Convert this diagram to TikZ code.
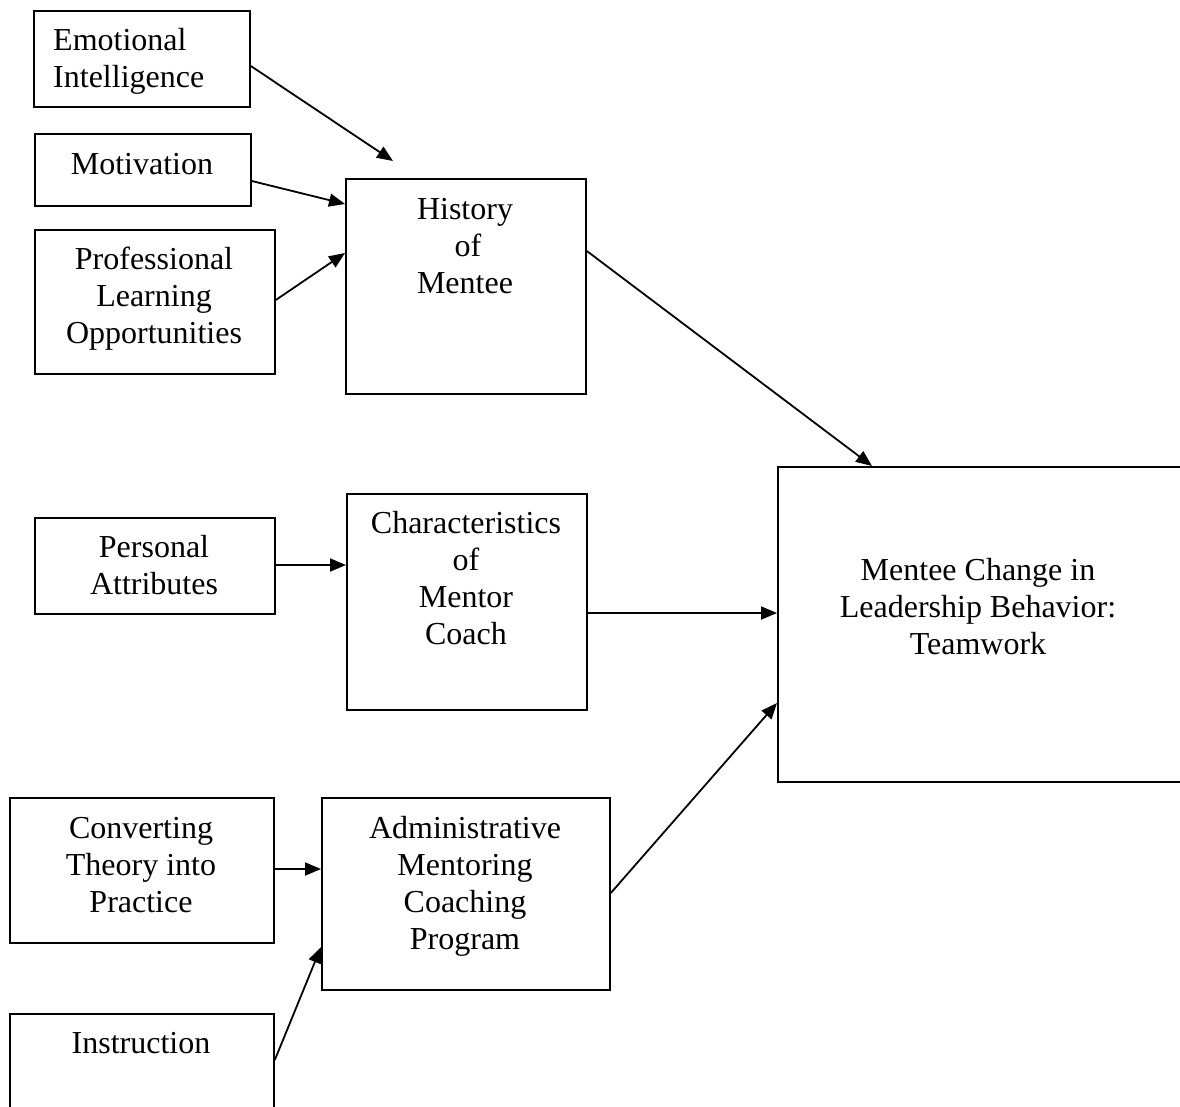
\documentclass[tikz,border=0pt]{standalone}
\usepackage{fontspec}
\setmainfont{Liberation Serif}
\usetikzlibrary{arrows.meta}
\begin{document}
\begin{tikzpicture}[x=1pt,y=-1pt,
  boxnode/.style={draw, line width=1.8pt, rectangle, inner sep=0pt, anchor=north west},
  lbl/.style={font=\fontsize{32}{37}\selectfont, align=center, inner sep=0pt, anchor=north},
  link/.style={line width=1.8pt, -{Triangle[length=16pt,width=13pt]}}]
\clip (0,0) rectangle (1180,1106);
\fill[white] (0,0) rectangle (1180,1106);

% boxes
\node[boxnode, minimum width=216, minimum height=96]  (emo)   at (33,10)   {};
\node[boxnode, minimum width=216, minimum height=72]  (mot)   at (34,133)  {};
\node[boxnode, minimum width=240, minimum height=144] (prof)  at (34,229)  {};
\node[boxnode, minimum width=240, minimum height=215] (hist)  at (345,178) {};
\node[boxnode, minimum width=240, minimum height=96]  (pers)  at (34,517)  {};
\node[boxnode, minimum width=240, minimum height=216] (char)  at (346,493) {};
\node[boxnode, minimum width=420, minimum height=315] (ment)  at (777,466) {};
\node[boxnode, minimum width=264, minimum height=145] (conv)  at (9,797)   {};
\node[boxnode, minimum width=288, minimum height=192] (admin) at (321,797) {};
\node[boxnode, minimum width=264, minimum height=130] (instr) at (9,1013)  {};

% texts
\node[lbl, align=left, anchor=north west] (emoT) at (53,24) {\strut Emotional\\Intelligence};
\node[lbl] (motT)   at (142,148)  {\strut Motivation};
\node[lbl] (profT)  at (154,243)  {\strut Professional\\Learning\\Opportunities};
\node[lbl] (histT)  at (465,193)  {\strut History\\\hspace*{6pt}of\\Mentee};
\node[lbl] (persT)  at (154,531)  {\strut Personal\\Attributes};
\node[lbl] (charT)  at (466,507)  {\strut Characteristics\\of\\Mentor\\Coach};
\node[lbl] (mentT)  at (978,554)  {\strut Mentee Change in\\Leadership Behavior:\\Teamwork};
\node[lbl] (convT)  at (141,812)  {\strut Converting\\Theory into\\Practice};
\node[lbl] (adminT) at (465,812)  {\strut Administrative\\Mentoring\\Coaching\\Program};
\node[lbl] (instrT) at (141,1027) {\strut Instruction};

% connectors
\coordinate (emoEnd) at (393,161);
\draw[link] (emo.east |- 0,66)    -- (emoEnd);
\draw[link] (mot.east |- 0,181)   -- (hist.west |- 0,204);
\draw[link] (prof.east |- 0,300)  -- (hist.west |- 0,253);
\draw[link] (hist.east |- 0,251)  -- (872,0 |- ment.north);
\draw[link] (pers.east |- 0,565)  -- (char.west |- 0,565);
\draw[link] (char.east |- 0,613)  -- (ment.west |- 0,613);
\draw[link] (conv.east |- 0,869)  -- (admin.west |- 0,869);
\draw[link] (admin.east |- 0,893) -- (ment.west |- 0,703);
\draw[link] (instr.east |- 0,1060) -- (admin.west |- 0,947);
\end{tikzpicture}
\end{document}
